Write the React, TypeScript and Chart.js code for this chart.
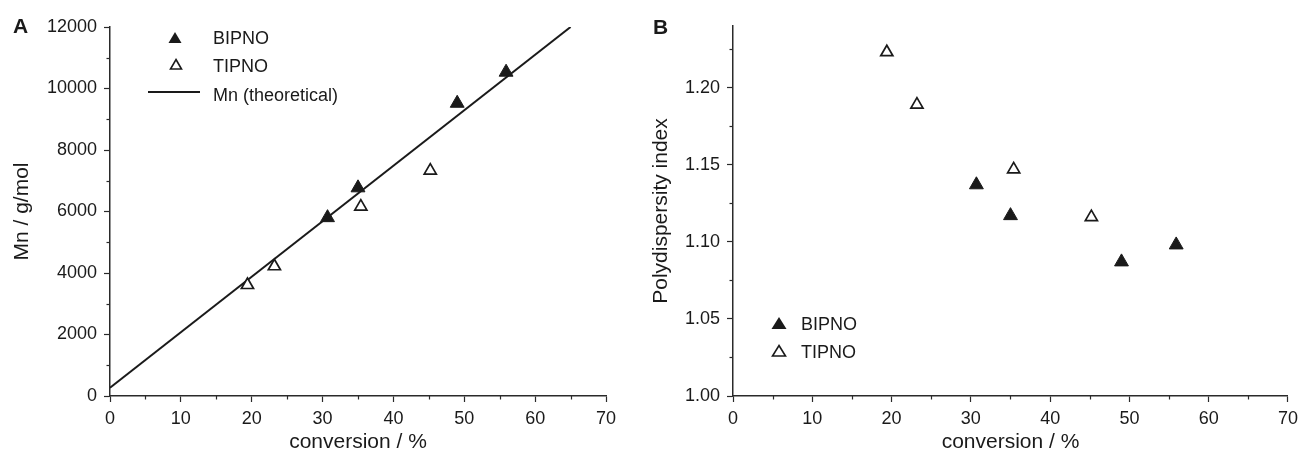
import React, { useEffect, useRef } from 'react';
import { Chart, registerables } from 'chart.js';

Chart.register(...registerables);

const FONT = "'Liberation Sans', Arial, Helvetica, sans-serif";
const INK = '#1a1a1a';
const AXIS = '#2a2a2a';

// ---- data ----
const BIPNO_CONV = [30.7, 35.0, 49.0, 55.9];
const BIPNO_MN = [5800, 6770, 9520, 10530];
const BIPNO_PDI = [1.137, 1.117, 1.087, 1.098];

const TIPNO_CONV = [19.4, 23.2, 35.4, 45.2];
const TIPNO_MN = [3610, 4220, 6160, 7330];
const TIPNO_PDI = [1.223, 1.189, 1.147, 1.116];

const THEORY_CONV = [0, 65];
const THEORY_MN = [270, 12000];

// ---- ticks ----
const X_MINOR = [5, 15, 25, 35, 45, 55, 65];
const MN_MINOR = [1000, 3000, 5000, 7000, 9000, 11000];
const PDI_MINOR = [1.025, 1.075, 1.125, 1.175, 1.225];

const SERIES_LABELS = ['BIPNO', 'TIPNO', 'Mn (theoretical)'];
const X_TITLE = 'conversion / %';
const Y_TITLE_A = 'Mn / g/mol';
const Y_TITLE_B = 'Polydispersity index';

const pts = (xs: number[], ys: number[]) => xs.map((x, i) => ({ x, y: ys[i] }));

function tri(ctx: CanvasRenderingContext2D, cx: number, top: number, w: number, h: number, filled: boolean) {
  ctx.beginPath();
  ctx.moveTo(cx, top);
  ctx.lineTo(cx + w / 2, top + h);
  ctx.lineTo(cx - w / 2, top + h);
  ctx.closePath();
  if (filled) {
    ctx.fillStyle = INK;
    ctx.fill();
  } else {
    ctx.fillStyle = '#fff';
    ctx.fill();
    ctx.lineWidth = 1.6;
    ctx.strokeStyle = INK;
    ctx.stroke();
  }
}

type LegendItem = { kind: 'filled' | 'open' | 'line'; cx: number; top: number; w: number; h: number; label: string; tx: number; ty: number };

function makeDecor(cfg: { letter: string; lx: number; ly: number; xMinor: number[]; yMinor: number[]; legend: LegendItem[] }) {
  return {
    id: 'decor' + cfg.letter,
    afterDraw(chart: any) {
      const ctx: CanvasRenderingContext2D = chart.ctx;
      const xs = chart.scales.x;
      const ys = chart.scales.y;
      ctx.save();
      ctx.strokeStyle = AXIS;
      ctx.lineWidth = 1.2;
      cfg.xMinor.forEach((v) => {
        const px = Math.round(xs.getPixelForValue(v)) + 0.5;
        ctx.beginPath();
        ctx.moveTo(px, xs.top);
        ctx.lineTo(px, xs.top + 3.5);
        ctx.stroke();
      });
      cfg.yMinor.forEach((v) => {
        const py = Math.round(ys.getPixelForValue(v)) + 0.5;
        ctx.beginPath();
        ctx.moveTo(ys.right, py);
        ctx.lineTo(ys.right - 3.5, py);
        ctx.stroke();
      });
      ctx.fillStyle = INK;
      ctx.textAlign = 'left';
      ctx.textBaseline = 'alphabetic';
      ctx.font = `bold 21px ${FONT}`;
      ctx.fillText(cfg.letter, cfg.lx, cfg.ly);
      for (const it of cfg.legend) {
        if (it.kind === 'line') {
          ctx.strokeStyle = INK;
          ctx.lineWidth = 2;
          ctx.beginPath();
          ctx.moveTo(it.cx - it.w / 2, it.top);
          ctx.lineTo(it.cx + it.w / 2, it.top);
          ctx.stroke();
        } else {
          tri(ctx, it.cx, it.top, it.w, it.h, it.kind === 'filled');
        }
        ctx.fillStyle = INK;
        ctx.font = `18px ${FONT}`;
        ctx.fillText(it.label, it.tx, it.ty);
      }
      ctx.restore();
    },
  };
}

function axisCommon() {
  return {
    grid: { display: true, drawOnChartArea: false, drawTicks: true, tickLength: 6, tickColor: AXIS, tickWidth: 1.2 },
    border: { display: true, color: AXIS, width: 1.5 },
  };
}

function xAxis() {
  return {
    type: 'linear' as const,
    min: 0,
    max: 70,
    ...axisCommon(),
    ticks: { stepSize: 10, padding: 6, color: INK, font: { family: FONT, size: 18 }, callback: (v: any) => String(v), maxRotation: 0 },
    title: { display: true, text: X_TITLE, color: INK, font: { family: FONT, size: 21, lineHeight: 1 }, padding: { top: 0, bottom: -1 } },
    afterFit: (s: any) => {
      s.height = 56;
    },
  };
}

const scatterDs = (label: string, data: any[], filled: boolean) => ({
  type: 'scatter' as const,
  label,
  data,
  pointStyle: 'triangle',
  pointRadius: filled ? 8 : 7,
  pointHoverRadius: filled ? 8 : 7,
  backgroundColor: filled ? INK : '#ffffff',
  borderColor: INK,
  borderWidth: filled ? 1 : 1.7,
  showLine: false,
  order: 1,
});

function ChartA() {
  const ref = useRef<HTMLCanvasElement>(null);
  useEffect(() => {
    const chart = new Chart(ref.current!, {
      type: 'scatter',
      data: {
        datasets: [
          {
            type: 'line' as const,
            label: SERIES_LABELS[2],
            data: pts(THEORY_CONV, THEORY_MN),
            borderColor: INK,
            borderWidth: 2,
            pointRadius: 0,
            fill: false,
            tension: 0,
            order: 3,
          } as any,
          scatterDs(SERIES_LABELS[0], pts(BIPNO_CONV, BIPNO_MN), true),
          scatterDs(SERIES_LABELS[1], pts(TIPNO_CONV, TIPNO_MN), false),
        ],
      },
      options: {
        responsive: false,
        animation: false,
        devicePixelRatio: 1,
        layout: { padding: { left: 0, right: 34, top: 27, bottom: 0 } },
        plugins: { legend: { display: false }, tooltip: { enabled: false } },
        scales: {
          x: xAxis(),
          y: {
            type: 'linear',
            min: 0,
            max: 12000,
            ...axisCommon(),
            ticks: { stepSize: 2000, padding: 7, color: INK, font: { family: FONT, size: 18 }, callback: (v: any) => String(v) },
            title: { display: true, text: Y_TITLE_A, color: INK, font: { family: FONT, size: 21, lineHeight: 1 }, padding: { top: 12, bottom: 0 } },
            afterFit: (s: any) => {
              s.width = 110;
            },
          },
        },
      } as any,
      plugins: [
        makeDecor({
          letter: 'A',
          lx: 13,
          ly: 33,
          xMinor: X_MINOR,
          yMinor: MN_MINOR,
          legend: [
            { kind: 'filled', cx: 175, top: 32, w: 13, h: 11, label: SERIES_LABELS[0], tx: 213, ty: 43.5 },
            { kind: 'open', cx: 176, top: 59.5, w: 11, h: 9.5, label: SERIES_LABELS[1], tx: 213, ty: 72 },
            { kind: 'line', cx: 174, top: 92, w: 52, h: 0, label: SERIES_LABELS[2], tx: 213, ty: 101 },
          ],
        }),
      ],
    });
    return () => chart.destroy();
  }, []);
  return <canvas ref={ref} width={640} height={452} style={{ position: 'absolute', left: 0, top: 0, display: 'block' }} />;
}

function ChartB() {
  const ref = useRef<HTMLCanvasElement>(null);
  useEffect(() => {
    const chart = new Chart(ref.current!, {
      type: 'scatter',
      data: {
        datasets: [
          scatterDs(SERIES_LABELS[0], pts(BIPNO_CONV, BIPNO_PDI), true),
          scatterDs(SERIES_LABELS[1], pts(TIPNO_CONV, TIPNO_PDI), false),
        ],
      },
      options: {
        responsive: false,
        animation: false,
        devicePixelRatio: 1,
        layout: { padding: { left: 0, right: 11, top: 26, bottom: 0 } },
        plugins: { legend: { display: false }, tooltip: { enabled: false } },
        scales: {
          x: xAxis(),
          y: {
            type: 'linear',
            min: 1.0,
            max: 1.24,
            ...axisCommon(),
            ticks: {
              stepSize: 0.05,
              includeBounds: false,
              padding: 7,
              color: INK,
              font: { family: FONT, size: 18 },
              callback: (v: any) => Number(v).toFixed(2),
            },
            title: { display: true, text: Y_TITLE_B, color: INK, font: { family: FONT, size: 21, lineHeight: 1 }, padding: { top: 11, bottom: 0 } },
            afterFit: (s: any) => {
              s.width = 93;
            },
          },
        },
      } as any,
      plugins: [
        makeDecor({
          letter: 'B',
          lx: 13,
          ly: 34,
          xMinor: X_MINOR,
          yMinor: PDI_MINOR,
          legend: [
            { kind: 'filled', cx: 139, top: 317, w: 15, h: 12, label: SERIES_LABELS[0], tx: 161, ty: 329.5 },
            { kind: 'open', cx: 139, top: 345.5, w: 13, h: 10.5, label: SERIES_LABELS[1], tx: 161, ty: 357.5 },
          ],
        }),
      ],
    });
    return () => chart.destroy();
  }, []);
  return <canvas ref={ref} width={664} height={452} style={{ position: 'absolute', left: 640, top: 0, display: 'block' }} />;
}

export default function App() {
  return (
    <div style={{ position: 'fixed', left: 0, top: 0, width: 1298, height: 452, background: '#ffffff', overflow: 'hidden' }}>
      <ChartA />
      <ChartB />
    </div>
  );
}
